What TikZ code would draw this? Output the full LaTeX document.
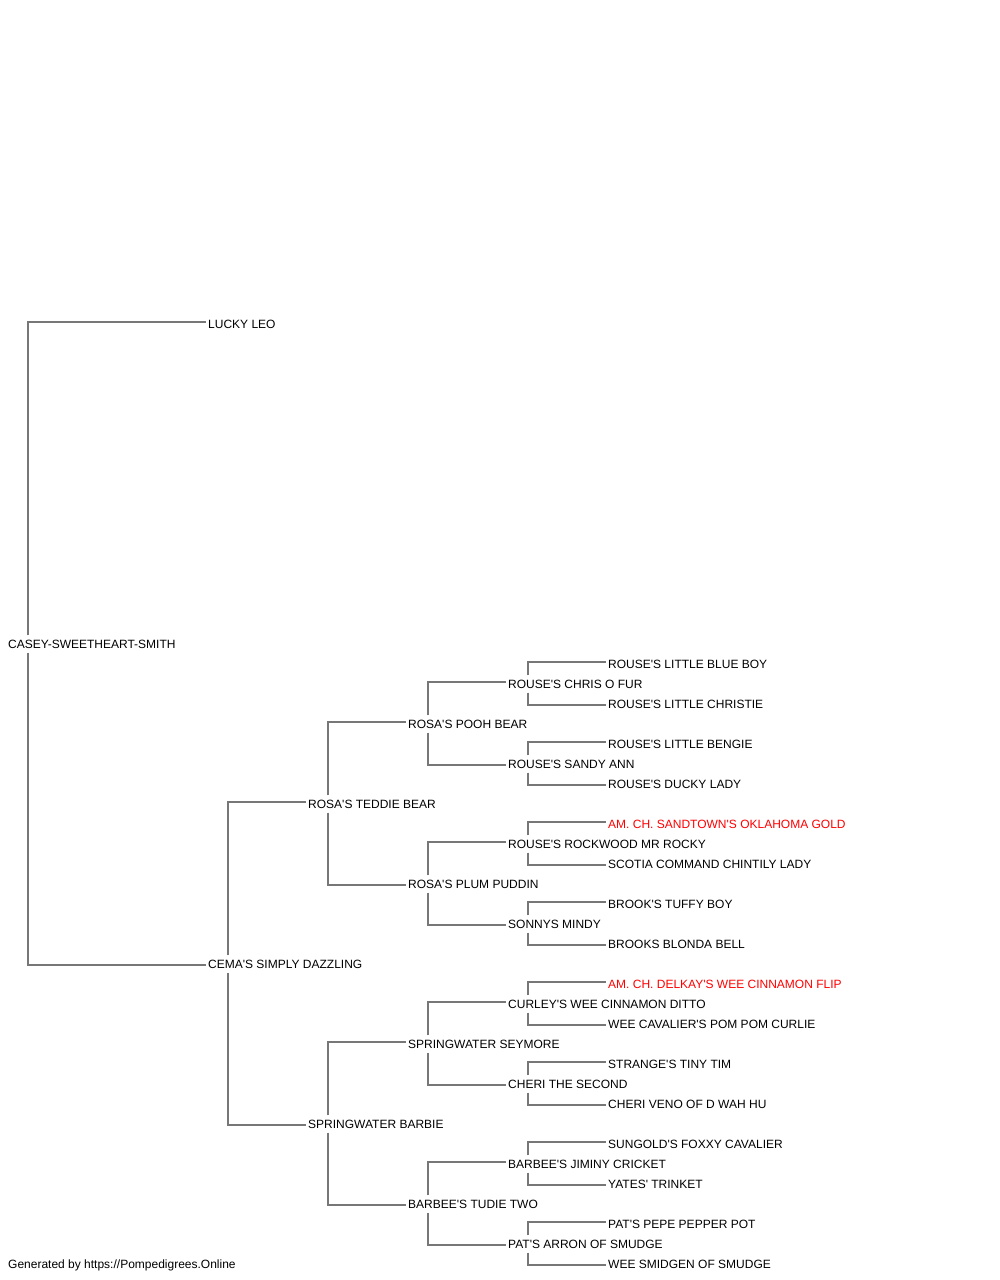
\documentclass[tikz,border=0pt]{standalone}
\usepackage{fontspec}
\setmainfont{Liberation Sans}
\newcommand\aq{\textquotesingle}
\definecolor{linegray}{HTML}{777777}
\begin{document}
\begin{tikzpicture}[x=1pt,y=-1pt,
  lbl/.style={anchor=west,font=\fontsize{12pt}{14pt}\selectfont,inner xsep=2pt,inner ysep=4pt,text height=9pt,text depth=0pt},
  hot/.style={lbl,text=red},
  link/.style={draw=linegray,line width=1.2pt}]
\useasboundingbox (0,0) rectangle (1000,1280);
% generation 0
\node[lbl] (n) at (6,644) {CASEY-SWEETHEART-SMITH};
% generation 1
\node[lbl] (a1) at (206,324) {LUCKY LEO};
\node[lbl] (a2) at (206,964) {CEMA\aq{}S SIMPLY DAZZLING};
% generation 2
\node[lbl] (b1) at (306,804) {ROSA\aq{}S TEDDIE BEAR};
\node[lbl] (b2) at (306,1124) {SPRINGWATER BARBIE};
% generation 3
\node[lbl] (c1) at (406,724) {ROSA\aq{}S POOH BEAR};
\node[lbl] (c2) at (406,884) {ROSA\aq{}S PLUM PUDDIN};
\node[lbl] (c3) at (406,1044) {SPRINGWATER SEYMORE};
\node[lbl] (c4) at (406,1204) {BARBEE\aq{}S TUDIE TWO};
% generation 4
\node[lbl] (d1) at (506,684) {ROUSE\aq{}S CHRIS O FUR};
\node[lbl] (d2) at (506,764) {ROUSE\aq{}S SANDY ANN};
\node[lbl] (d3) at (506,844) {ROUSE\aq{}S ROCKWOOD MR ROCKY};
\node[lbl] (d4) at (506,924) {SONNYS MINDY};
\node[lbl] (d5) at (506,1004) {CURLEY\aq{}S WEE CINNAMON DITTO};
\node[lbl] (d6) at (506,1084) {CHERI THE SECOND};
\node[lbl] (d7) at (506,1164) {BARBEE\aq{}S JIMINY CRICKET};
\node[lbl] (d8) at (506,1244) {PAT\aq{}S ARRON OF SMUDGE};
% generation 5
\node[lbl] (e1) at (606,664) {ROUSE\aq{}S LITTLE BLUE BOY};
\node[lbl] (e2) at (606,704) {ROUSE\aq{}S LITTLE CHRISTIE};
\node[lbl] (e3) at (606,744) {ROUSE\aq{}S LITTLE BENGIE};
\node[lbl] (e4) at (606,784) {ROUSE\aq{}S DUCKY LADY};
\node[hot] (e5) at (606,824) {AM. CH. SANDTOWN\aq{}S OKLAHOMA GOLD};
\node[lbl] (e6) at (606,864) {SCOTIA COMMAND CHINTILY LADY};
\node[lbl] (e7) at (606,904) {BROOK\aq{}S TUFFY BOY};
\node[lbl] (e8) at (606,944) {BROOKS BLONDA BELL};
\node[hot] (e9) at (606,984) {AM. CH. DELKAY\aq{}S WEE CINNAMON FLIP};
\node[lbl] (e10) at (606,1024) {WEE CAVALIER\aq{}S POM POM CURLIE};
\node[lbl] (e11) at (606,1064) {STRANGE\aq{}S TINY TIM};
\node[lbl] (e12) at (606,1104) {CHERI VENO OF D WAH HU};
\node[lbl] (e13) at (606,1144) {SUNGOLD\aq{}S FOXXY CAVALIER};
\node[lbl] (e14) at (606,1184) {YATES\aq{} TRINKET};
\node[lbl] (e15) at (606,1224) {PAT\aq{}S PEPE PEPPER POT};
\node[lbl] (e16) at (606,1264) {WEE SMIDGEN OF SMUDGE};
% footer
\node[lbl] (footer) at (6,1264) {Generated by https://Pompedigrees.Online};
% connectors
\foreach \p/\s/\d in {n/a1/a2, a2/b1/b2, b1/c1/c2, b2/c3/c4,
  c1/d1/d2, c2/d3/d4, c3/d5/d6, c4/d7/d8,
  d1/e1/e2, d2/e3/e4, d3/e5/e6, d4/e7/e8, d5/e9/e10, d6/e11/e12, d7/e13/e14, d8/e15/e16}{
  \draw[link] ([xshift=22pt]\p.north west) |- ([yshift=2pt]\s.west);
  \draw[link] ([xshift=22pt]\p.south west) |- ([yshift=-1pt]\d.west);
}
\end{tikzpicture}
\end{document}
